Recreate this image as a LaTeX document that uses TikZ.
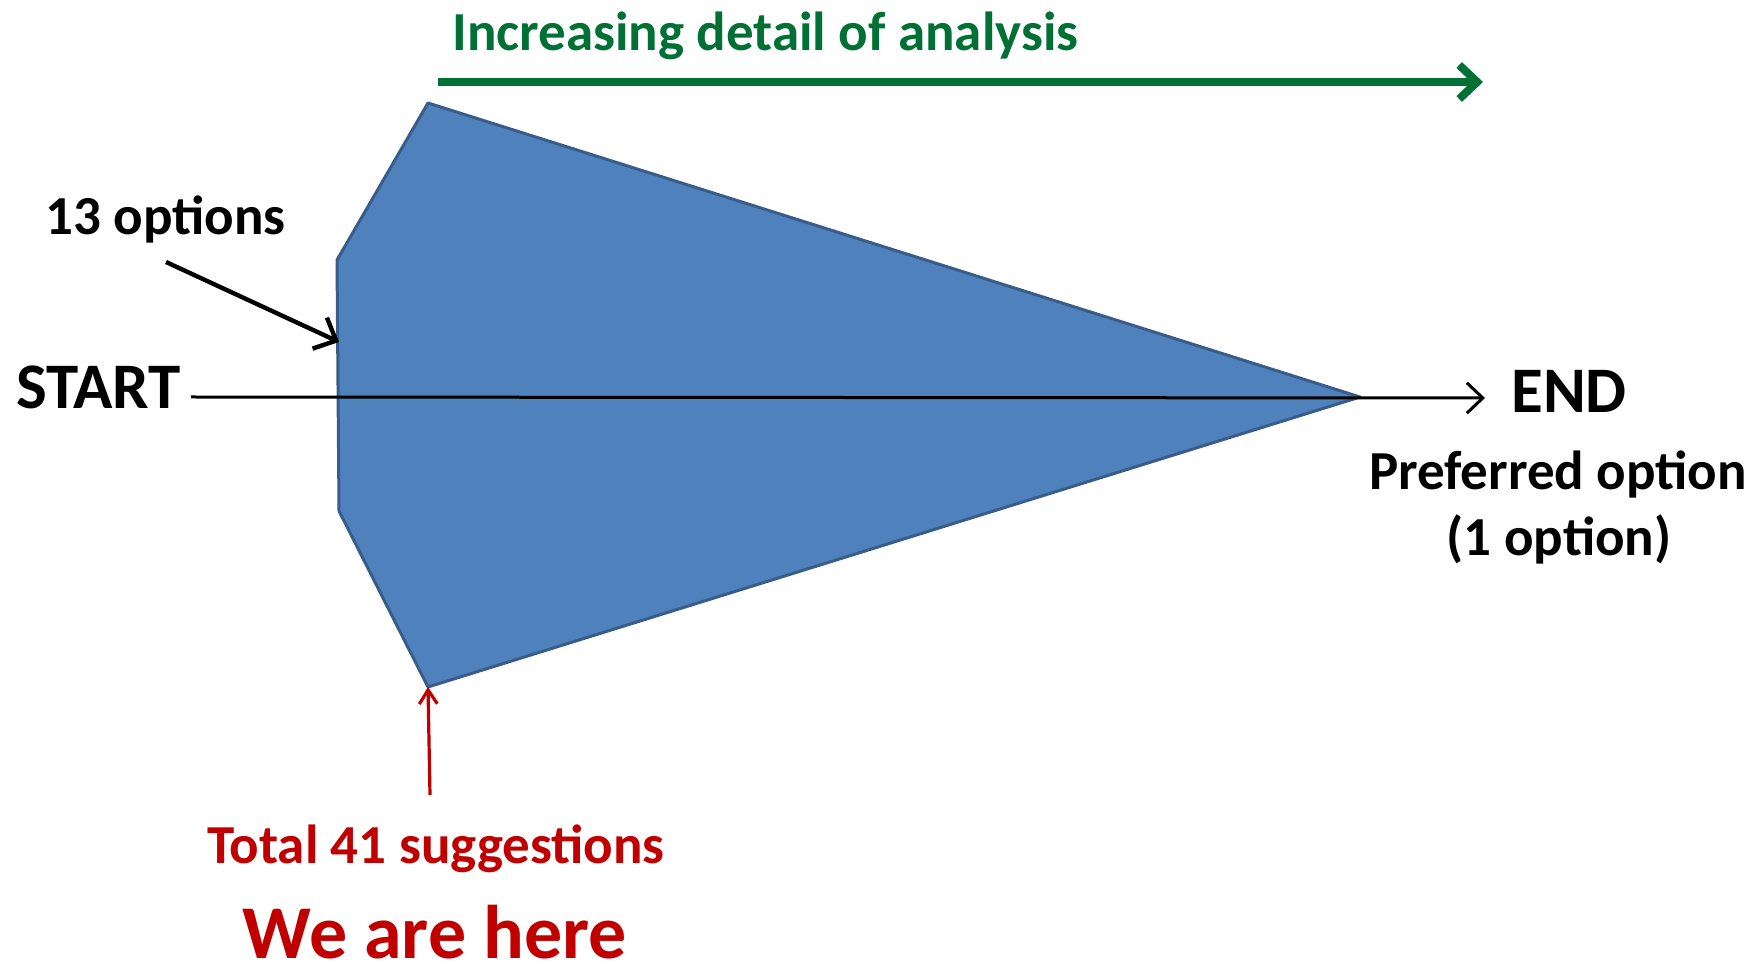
\documentclass[tikz,border=0pt]{standalone}
\usepackage{fontspec}
\setmainfont{Carlito}
\usetikzlibrary{arrows.meta}

\definecolor{fanblue}{RGB}{79,129,189}
\definecolor{fanedge}{RGB}{56,93,138}
\definecolor{darkgreen}{RGB}{0,112,52}
\definecolor{darkred}{RGB}{192,0,0}

\begin{document}
\begin{tikzpicture}[x=0.5pt,y=-0.5pt,
    lbl/.style={inner sep=0pt,font=\bfseries\fontsize{27.5}{33}\selectfont},
    biglbl/.style={inner sep=0pt,font=\bfseries\fontsize{32.5}{39}\selectfont},
    hugelbl/.style={inner sep=0pt,font=\bfseries\fontsize{38}{46}\selectfont},
    barb/.style={-{Straight Barb[length=#1,width=1.9*#1]}}]
  \useasboundingbox (0,0) rectangle (1762,972);

  % corners of the funnel
  \coordinate (top) at (428,103);
  \coordinate (ul)  at (337,260);
  \coordinate (ll)  at (339,511);
  \coordinate (bot) at (428,687);
  \coordinate (tip) at (1360,397);
  \filldraw[fill=fanblue,draw=fanedge,line width=1.5pt,line join=round]
    (top) -- (tip) -- (bot) -- (ll) -- (ul) -- cycle;

  % heading with its arrow
  \node[lbl,text=darkgreen,anchor=base west] (title) at (452,51) {Increasing detail of analysis};
  \coordinate (grA) at (438,82);
  \coordinate (grB) at (1483,82);
  \draw[darkgreen,line width=4pt,-{Straight Barb[length=9pt,width=17pt]}] (grA) -- (grB);

  % start to end line
  \node[biglbl,anchor=base west] (start) at (16,409) {START};
  \node[biglbl,anchor=base west] (end) at (1511,413) {END};
  \coordinate (lineA) at (191,397);
  \coordinate (lineB) at (1485,398);
  \draw[line width=1.5pt,barb=8pt] (lineA) -- (lineB);

  \node[lbl,anchor=base] (pref) at (1558,490) {Preferred option};
  \node[lbl,anchor=base] (one) at (1559,556) {(1 option)};

  % options on the left edge
  \node[lbl,anchor=base west] (opts) at (45,235) {13 options};
  \coordinate (optA) at (166,262);
  \coordinate (optB) at (339,342);
  \draw[line width=2.2pt,barb=9pt] (optA) -- (optB);

  % where we stand now
  \coordinate (redA) at (430,795);
  \draw[darkred,line width=1.6pt,-{Straight Barb[length=7pt,width=9pt]}] (redA) -- (bot);
  \node[lbl,text=darkred,anchor=base] (total) at (436,863) {Total 41 suggestions};
  \node[hugelbl,text=darkred,anchor=base] (here) at (435,958) {We are here};
\end{tikzpicture}
\end{document}
